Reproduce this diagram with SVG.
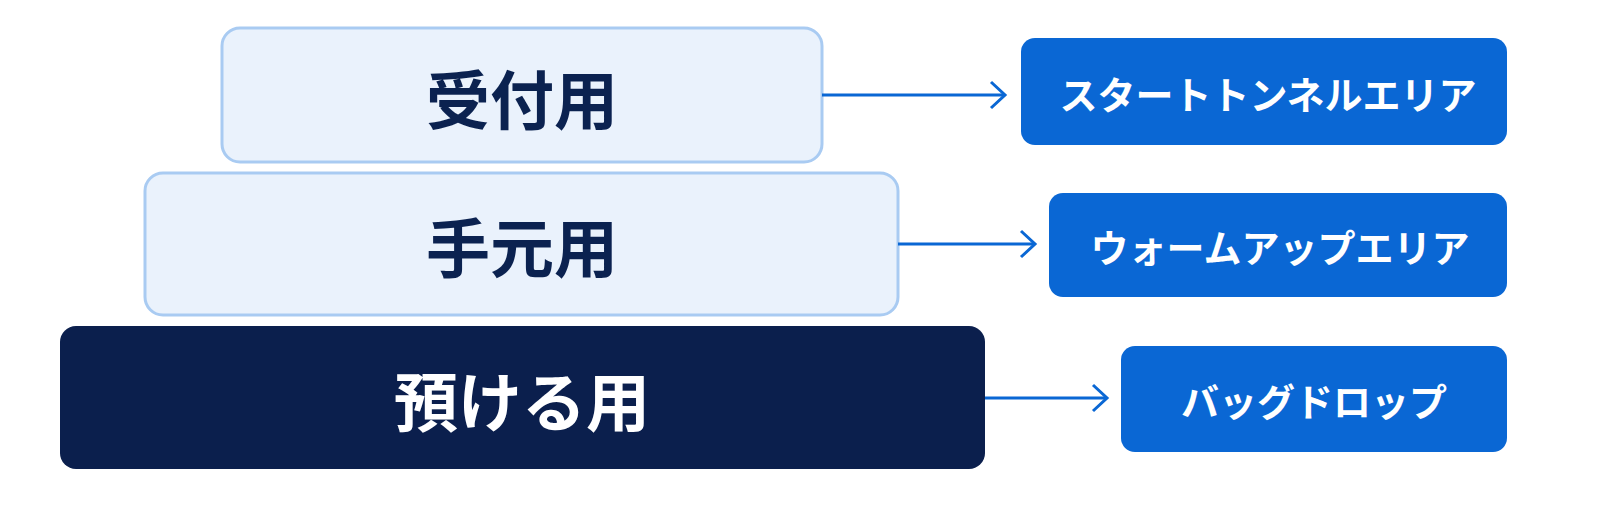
<svg xmlns="http://www.w3.org/2000/svg" width="1600" height="509" viewBox="0 0 1600 509">
<style>
.l{fill:#EAF2FC;stroke:#A9CBF2;stroke-width:3}
.lt{font-family:"Noto Sans CJK JP",sans-serif;font-weight:bold;font-size:64px;fill:#0B2250;text-anchor:middle;dominant-baseline:central}
.dt{font-family:"Noto Sans CJK JP",sans-serif;font-weight:bold;font-size:64px;fill:#fff;text-anchor:middle;dominant-baseline:central}
.r{fill:#0A67D4}
.rt{font-family:"Noto Sans CJK JP",sans-serif;font-weight:bold;font-size:38px;fill:#fff;text-anchor:middle;dominant-baseline:central}
.c{stroke:#0A67D4;stroke-width:3;fill:none}
</style>
<defs><marker id="a" markerWidth="20" markerHeight="30" refX="17" refY="15" orient="auto" markerUnits="userSpaceOnUse"><path d="M3,2 L17,15 L3,28" fill="none" stroke="#0A67D4" stroke-width="3"/></marker></defs>
<rect width="1600" height="509" fill="#fff"/>
<g id="n1"><rect class="l" x="222" y="28" width="600" height="134" rx="18"/><text class="lt" x="522" y="96">受付用</text></g>
<g id="n2"><rect class="l" x="145" y="173" width="753" height="142" rx="18"/><text class="lt" x="522" y="244">手元用</text></g>
<g id="n3"><rect x="60" y="326" width="925" height="143" rx="16" fill="#0B1F4D"/><text class="dt" x="522" y="398">預ける用</text></g>
<g id="r1"><rect class="r" x="1021" y="38" width="486" height="107" rx="14"/><text class="rt" x="1268" y="92">スタートトンネルエリア</text></g>
<g id="r2"><rect class="r" x="1049" y="193" width="458" height="104" rx="14"/><text class="rt" x="1280" y="245">ウォームアップエリア</text></g>
<g id="r3"><rect class="r" x="1121" y="346" width="386" height="106" rx="14"/><text class="rt" x="1314" y="399">バッグドロップ</text></g>
<g id="connectors">
<line class="c" x1="822" y1="95" x2="1005" y2="95" marker-end="url(#a)"/>
<line class="c" x1="898" y1="244" x2="1035" y2="244" marker-end="url(#a)"/>
<line class="c" x1="985" y1="398" x2="1107" y2="398" marker-end="url(#a)"/>
</g>
</svg>
